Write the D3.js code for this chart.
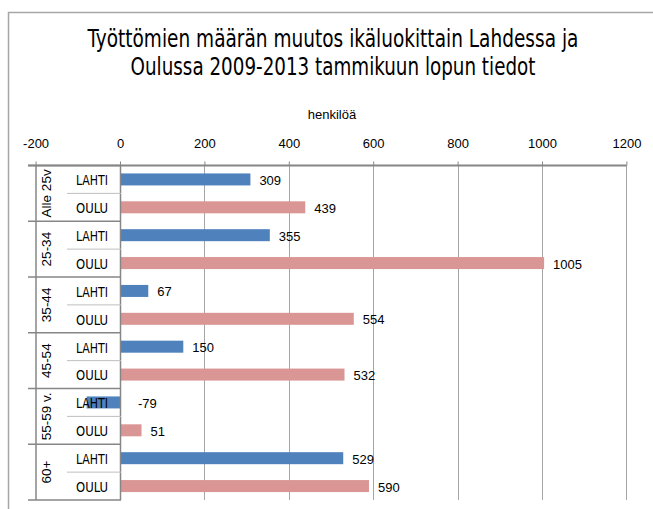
<!DOCTYPE html>
<html>
<head>
<meta charset="utf-8">
<script src="https://cdn.jsdelivr.net/npm/d3@7"></script>
<style>
  body { margin: 0; background: #fff; }
  svg { display: block; }
</style>
</head>
<body>
<svg id="chart" width="653" height="509"></svg>
<script>
var title_lines = ['Työttömien määrän muutos ikäluokittain Lahdessa ja', 'Oulussa 2009-2013 tammikuun lopun tiedot'];
var title_widths = [491, 405];
var axis_title = 'henkilöä';
var groups = ['Alle 25v', '25-34', '35-44', '45-54', '55-59 v.', '60+'];
var cities = ['LAHTI', 'OULU'];
var lahti = [309, 355, 67, 150, -79, 529];
var oulu = [439, 1005, 554, 532, 51, 590];
var ticks = [-200, 0, 200, 400, 600, 800, 1000, 1200];

var colors = { LAHTI: '#4f81bd', OULU: '#d99694' };
var narrow = '"Liberation Sans Narrow", "DejaVu Sans Condensed", "Liberation Sans", sans-serif';

var svg = d3.select('#chart');

// chart border (right and bottom edges fall outside the window)
svg.append('rect').attr('x', 8.5).attr('y', 12.5).attr('width', 700).attr('height', 600)
    .attr('fill', 'none').attr('stroke', '#a6a6a6').attr('stroke-width', 1.5);

// title: squeeze each line horizontally to the narrow width of the original
title_lines.forEach(function(line, i){
    var g = svg.append('g');
    var t = g.append('text').attr('x', 0).attr('y', 0).attr('text-anchor', 'middle')
        .style('font-family', narrow).style('font-size', '24px').style('fill', '#000')
        .text(line);
    var sx = title_widths[i] / t.node().getComputedTextLength();
    if(sx > 1) sx = 1;
    g.attr('transform', 'translate(333,' + (47 + i*28) + ') scale(' + sx + ',1)');
});

var x = d3.scaleLinear().domain([-200, 1200]).range([35.6, 626.4]);
var y_group = d3.scaleBand().domain(groups).range([165.5, 500]);
var y_row = d3.scaleBand().domain(cities).range([0, y_group.bandwidth()]);
var bar_h = 12;

var rows = [];
groups.forEach(function(g, i){
    rows.push({ group: g, city: 'LAHTI', value: lahti[i] });
    rows.push({ group: g, city: 'OULU', value: oulu[i] });
});

// gridlines
svg.append('g').selectAll('line').data(ticks.filter(function(t){ return t > 0; })).join('line')
    .attr('x1', function(d){ return Math.round(x(d)) + 0.5; })
    .attr('x2', function(d){ return Math.round(x(d)) + 0.5; })
    .attr('y1', 165).attr('y2', 500)
    .attr('stroke', '#a6a6a6').attr('stroke-width', 1);

// top value axis
var axis = d3.axisTop(x).tickValues(ticks).tickSize(4).tickPadding(14).tickFormat(function(d){ return String(d); });
var ax = svg.append('g').attr('transform', 'translate(0,165.5)').call(axis);
ax.select('.domain').remove();
ax.selectAll('.tick line').attr('stroke', '#868686');
ax.selectAll('.tick text')
    .style('font-family', '"Liberation Sans", sans-serif').style('font-size', '13px').style('fill', '#000');
svg.append('line').attr('x1', 28).attr('x2', x(1200)).attr('y1', 165.5).attr('y2', 165.5)
    .attr('stroke', '#868686').attr('stroke-width', 2);

svg.append('text').attr('x', 332).attr('y', 119).attr('text-anchor', 'middle')
    .style('font-family', '"Liberation Sans", sans-serif').style('font-size', '13px')
    .text(axis_title);

// bars
svg.append('g').selectAll('rect').data(rows).join('rect')
    .attr('x', function(d){ return x(Math.min(0, d.value)); })
    .attr('width', function(d){ return Math.abs(x(d.value) - x(0)); })
    .attr('y', function(d){ return y_group(d.group) + y_row(d.city) + (y_row.bandwidth() - bar_h)/2; })
    .attr('height', bar_h)
    .attr('fill', function(d){ return colors[d.city]; });

// value labels
svg.append('g').selectAll('text').data(rows).join('text')
    .attr('x', function(d){ return d.value < 0 ? x(0) + 18 : x(d.value) + 9; })
    .attr('y', function(d){ return y_group(d.group) + y_row(d.city) + y_row.bandwidth()/2 + 1; })
    .attr('dy', '0.35em')
    .style('font-family', '"Liberation Sans", sans-serif').style('font-size', '13px').style('fill', '#000')
    .text(function(d){ return d.value; });

// category axis with group boxes
var cat = svg.append('g').attr('stroke', '#868686');
cat.append('line').attr('x1', 120.5).attr('x2', 120.5).attr('y1', 165).attr('y2', 500).attr('stroke-width', 1.5);
cat.append('line').attr('x1', 36).attr('x2', 36).attr('y1', 165).attr('y2', 500).attr('stroke-width', 1.5);
cat.selectAll('line.grp').data(groups.concat(['end'])).join('line').attr('class', 'grp')
    .attr('x1', 28).attr('x2', 121)
    .attr('y1', function(d){ return d == 'end' ? 500 : y_group(d); })
    .attr('y2', function(d){ return d == 'end' ? 500 : y_group(d); })
    .attr('stroke-width', 1.5);
cat.selectAll('line.row').data(groups).join('line').attr('class', 'row')
    .attr('x1', 67).attr('x2', 121)
    .attr('y1', function(d){ return y_group(d) + y_row('OULU'); })
    .attr('y2', function(d){ return y_group(d) + y_row('OULU'); })
    .attr('stroke', '#bfbfbf').attr('stroke-width', 1);

svg.append('g').selectAll('text').data(rows).join('text')
    .attr('x', 92)
    .attr('y', function(d){ return y_group(d.group) + y_row(d.city) + y_row.bandwidth()/2 + 1; })
    .attr('dy', '0.35em').attr('text-anchor', 'middle')
    .attr('textLength', 32).attr('lengthAdjust', 'spacingAndGlyphs')
    .style('font-family', narrow).style('font-size', '14px')
    .text(function(d){ return d.city; });

svg.append('g').selectAll('text').data(groups).join('text')
    .attr('transform', function(d){ return 'translate(46,' + (y_group(d) + y_group.bandwidth()/2) + ') rotate(-90)'; })
    .attr('dy', '0.35em').attr('text-anchor', 'middle')
    .style('font-family', '"Liberation Sans", sans-serif').style('font-size', '13.5px')
    .text(function(d){ return d; });
</script>
</body>
</html>
